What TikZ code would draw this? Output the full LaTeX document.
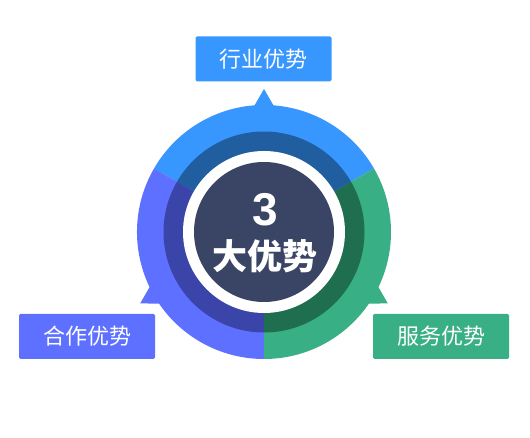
\documentclass[tikz,border=0pt]{standalone}
\usepackage{fontspec}
\usetikzlibrary{calc}
\newfontfamily\cjk{Noto Sans CJK SC}
\newfontfamily\numfont{Liberation Sans}
\definecolor{cblue}{HTML}{3896FF}
\definecolor{cbluedk}{HTML}{215EA0}
\definecolor{cpurp}{HTML}{5E70FF}
\definecolor{cpurpdk}{HTML}{3B44A8}
\definecolor{cgreen}{HTML}{38AF84}
\definecolor{cgreendk}{HTML}{206E50}
\definecolor{cnavy}{HTML}{3A4464}
\tikzset{
  labelbox/.style={rounded corners=1.5pt, minimum width=136pt, minimum height=45pt,
    inner sep=0pt, text=white, font=\cjk\fontsize{22}{24}\selectfont},
}
\begin{document}
\begin{tikzpicture}[x=1pt,y=1pt]
\useasboundingbox (0,0) rectangle (530,438);
\coordinate (c) at (264,206);
% spikes
\foreach \a/\col in {90/cblue,210/cpurp,330/cgreen}{
  \fill[\col] ($(c)+(\a:143)$) -- ($(c)+(\a:120)+(\a+90:13.3)$) -- ($(c)+(\a:120)+(\a-90:13.3)$) -- cycle;
}
% outer sectors
\fill[cblue] (c) -- ++(30:127) arc[start angle=30,end angle=150,radius=127] -- cycle;
\fill[cpurp] (c) -- ++(150:127) arc[start angle=150,end angle=270,radius=127] -- cycle;
\fill[cgreen] (c) -- ++(270:127) arc[start angle=270,end angle=390,radius=127] -- cycle;
% dark sectors
\fill[cbluedk] (c) -- ++(30:100.5) arc[start angle=30,end angle=150,radius=100.5] -- cycle;
\fill[cpurpdk] (c) -- ++(150:100.5) arc[start angle=150,end angle=270,radius=100.5] -- cycle;
\fill[cgreendk] (c) -- ++(270:100.5) arc[start angle=270,end angle=390,radius=100.5] -- cycle;
% white ring and centre
\fill[white] (c) circle[radius=81];
\fill[cnavy] (c) circle[radius=70];
\node[text=white, font=\numfont\bfseries\fontsize{46}{48}\selectfont, inner sep=0pt] (num) at (265.5,228) {3};
\node[text=white, font=\cjk\bfseries\fontsize{35}{38}\selectfont, inner sep=0pt] (title) at (265,182) {大优势};
% labels
\node[labelbox, fill=cblue] (top) at (263.5,379) {行业优势};
\node[labelbox, fill=cpurp] (left) at (87,101.5) {合作优势};
\node[labelbox, fill=cgreen] (right) at (441,101.5) {服务优势};
\end{tikzpicture}
\end{document}
